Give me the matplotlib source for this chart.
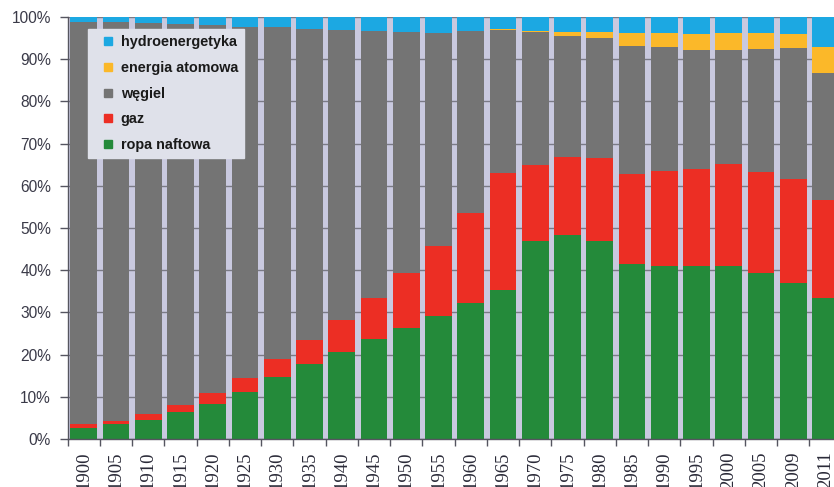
import numpy as np
import matplotlib
matplotlib.use("Agg")
import matplotlib.pyplot as plt
from matplotlib.lines import Line2D

# years on the x axis
years = ['1900', '1905', '1910', '1915', '1920', '1925', '1930', '1935', '1940', '1945',
         '1950', '1955', '1960', '1965', '1970', '1975', '1980', '1985', '1990', '1995',
         '2000', '2005', '2009', '2011']

# shares in percent
ropa = [2.7, 3.5, 4.5, 6.5, 8.4, 11.1, 14.8, 17.8, 20.5, 23.6,
        26.4, 29.1, 32.3, 35.3, 46.8, 48.3, 47.0, 41.5, 41.1, 40.9,
        41.1, 39.3, 36.9, 33.3]
gaz = [0.8, 0.8, 1.4, 1.6, 2.4, 3.4, 4.2, 5.7, 7.7, 9.9,
       13.0, 16.7, 21.3, 27.7, 18.1, 18.5, 19.7, 21.3, 22.4, 23.0,
       24.0, 24.0, 24.6, 23.3]
wegiel = [95.3, 94.4, 92.6, 90.2, 87.2, 83.2, 78.6, 73.7, 68.6, 63.2,
          57.0, 50.5, 43.1, 34.0, 31.5, 28.8, 28.3, 30.4, 29.3, 28.3,
          27.1, 29.1, 31.1, 30.2]
atom = [0, 0, 0, 0, 0, 0, 0, 0, 0, 0,
        0, 0, 0, 0.2, 0.3, 0.8, 1.4, 2.9, 3.5, 3.7,
        3.9, 3.7, 3.3, 6.1]
hydro = [1.2, 1.3, 1.5, 1.7, 2.0, 2.3, 2.4, 2.8, 3.2, 3.3,
         3.6, 3.7, 3.3, 2.8, 3.3, 3.6, 3.6, 3.9, 3.7, 4.1,
         3.9, 3.9, 4.1, 7.1]

series = [('ropa naftowa', ropa, '#248a3a'),
          ('gaz', gaz, '#ec2e24'),
          ('węgiel', wegiel, '#747474'),
          ('energia atomowa', atom, '#fbb829'),
          ('hydroenergetyka', hydro, '#1ca8e2')]

fig = plt.figure(figsize=(8.34, 4.87), dpi=100)
ax = fig.add_axes([0.0812, 0.0986, 0.928, 0.8665])
ax.set_facecolor('#c9c9df')

x = np.arange(len(years))
bottom = np.zeros(len(years))
for name, vals, col in series:
    ax.bar(x, vals, bottom=bottom, width=0.83, color=col, zorder=2)
    bottom += np.array(vals)

ax.set_xlim(-0.5, len(years) - 0.5)
ax.set_ylim(0, 100)
ax.set_yticks(np.arange(0, 101, 10))
ax.set_yticklabels([f'{v}%' for v in range(0, 101, 10)],
                   fontsize=11.2, family='Liberation Sans', color='#3a3a48')
ax.yaxis.grid(True, color='#7a7a86', linewidth=1, zorder=0)
ax.set_axisbelow(True)

# labels under bar centers, tick marks at category borders
ax.set_xticks(x)
ax.set_xticklabels(years, rotation=90, fontsize=13.5, family='Liberation Serif',
                   color='#2a2a38', va='top')
ax.tick_params(axis='x', which='major', length=0, pad=9)
ax.set_xticks(np.arange(len(years) + 1) - 0.5, minor=True)
ax.tick_params(axis='x', which='minor', length=5, color='#555560', width=1)
ax.tick_params(axis='y', length=6, color='#555560', width=1, pad=6)

for s in ['top', 'right']:
    ax.spines[s].set_visible(False)
for s in ['left', 'bottom']:
    ax.spines[s].set_color('#555560')
    ax.spines[s].set_linewidth(1)

handles = [Line2D([], [], marker='s', linestyle='none', markersize=5.5,
                  markerfacecolor=col, markeredgecolor=col, label=name)
           for name, vals, col in series][::-1]
leg = ax.legend(handles=handles, loc='upper left', bbox_to_anchor=(0.026, 0.972),
                borderaxespad=0, frameon=True, fancybox=False,
                handlelength=2.0, handletextpad=-0.15,
                labelspacing=0.82, borderpad=0.42,
                prop={'family': 'Liberation Sans', 'weight': 'bold', 'size': 10.4})
leg.get_frame().set_facecolor('#dfe1ea')
leg.get_frame().set_edgecolor('#dfe1ea')
leg.get_frame().set_alpha(1)
for t in leg.get_texts():
    t.set_color('#1a1a1a')

fig.savefig('out.png', dpi=100)
